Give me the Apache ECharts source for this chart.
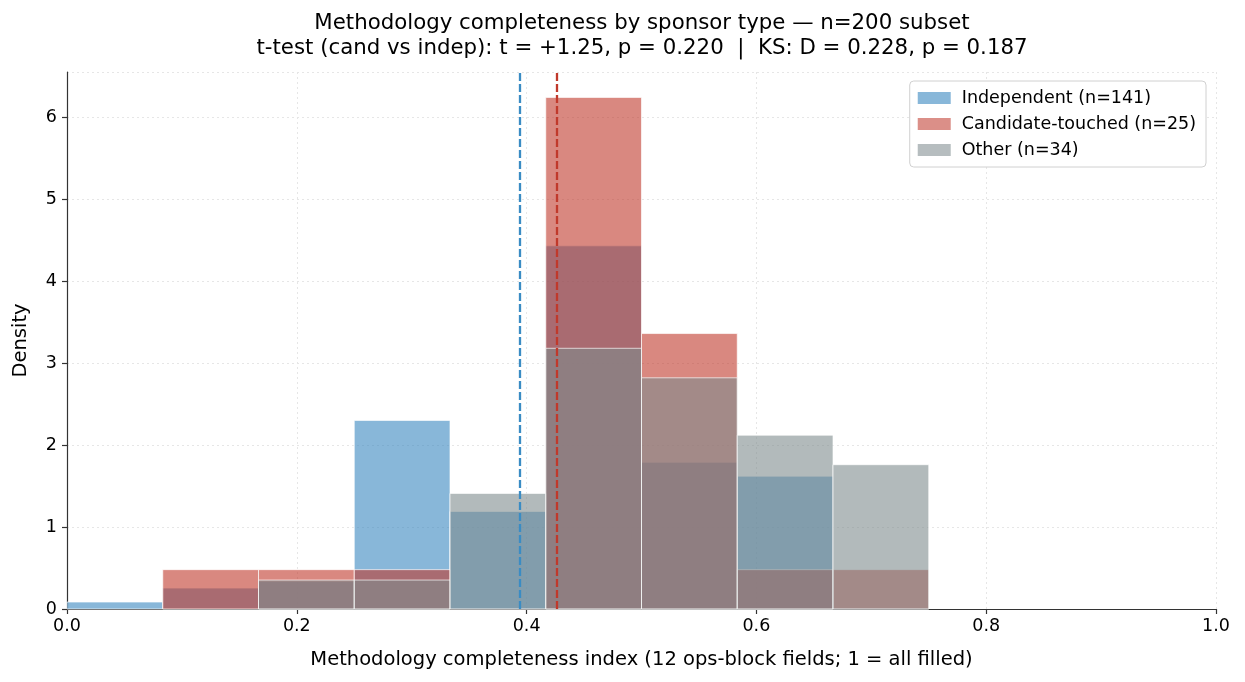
<!DOCTYPE html>
<html>
<head>
<meta charset="utf-8">
<script src="https://cdn.jsdelivr.net/npm/echarts@6/dist/echarts.min.js"></script>
<style>
  html, body { margin: 0; padding: 0; background: #fff; }
  #chart { width: 1245px; height: 682px; }
</style>
</head>
<body>
<div id="chart"></div>
<script>
// bin edges: 12 bins of 1/12 on [0, 1], only the first 9 have data
const binEdges = [0, 1 / 12, 2 / 12, 3 / 12, 4 / 12, 5 / 12, 6 / 12, 7 / 12, 8 / 12, 9 / 12];
const independentDensity = [0.085, 0.255, 0.34, 2.30, 1.19, 4.43, 1.79, 1.62, 0];
const candidateDensity = [0, 0.48, 0.48, 0.48, 0, 6.24, 3.36, 0.48, 0.48];
const otherDensity = [0, 0, 0.353, 0.353, 1.41, 3.18, 2.82, 2.12, 1.76];
const seriesNames = ['Independent (n=141)', 'Candidate-touched (n=25)', 'Other (n=34)'];
const meanIndependent = 0.394;
const meanCandidate = 0.4265;

const font = 'DejaVu Sans';

const toBins = (dens) =>
  dens.map((d, i) => [binEdges[i], binEdges[i + 1], d]).filter((b) => b[2] > 0);

const histSeries = (name, dens, fill, legendColor) => ({
  name,
  type: 'custom',
  itemStyle: { color: legendColor },
  data: toBins(dens),
  encode: { x: [0, 1], y: 2 },
  renderItem: (params, api) => {
    const top = api.coord([api.value(0), api.value(2)]);
    const base = api.coord([api.value(1), 0]);
    return {
      type: 'rect',
      shape: { x: top[0], y: top[1], width: base[0] - top[0], height: base[1] - top[1] },
      style: { fill, stroke: 'rgba(255,255,255,0.75)', lineWidth: 0.9 }
    };
  }
});

const chart = echarts.init(document.getElementById('chart'));
chart.setOption({
  animation: false,
  title: {
    text: 'Methodology completeness by sponsor type — n=200 subset\nt-test (cand vs indep): t = +1.25, p = 0.220  |  KS: D = 0.228, p = 0.187',
    left: 637,
    textAlign: 'center',
    top: 6,
    textStyle: { fontFamily: font, fontSize: 21.3, fontWeight: 'normal', color: '#000', lineHeight: 25 }
  },
  legend: {
    orient: 'vertical',
    right: 39,
    top: 81,
    padding: [8, 10, 8, 8],
    itemGap: 8,
    itemWidth: 33,
    itemHeight: 12,
    icon: 'rect',
    backgroundColor: '#fff',
    borderColor: '#d0d0d0',
    borderWidth: 1,
    borderRadius: 4,
    textStyle: { fontFamily: font, fontSize: 17.5, color: '#000', padding: [0, 0, 0, 6] },
    data: [
      { name: seriesNames[0], itemStyle: { color: '#88b7d9' } },
      { name: seriesNames[1], itemStyle: { color: '#db8f88' } },
      { name: seriesNames[2], itemStyle: { color: '#b6bdbf' } }
    ]
  },
  grid: { left: 67, right: 29, top: 72, bottom: 73, outerBoundsMode: 'none' },
  xAxis: {
    type: 'value',
    min: 0,
    max: 1,
    interval: 0.2,
    name: 'Methodology completeness index (12 ops-block fields; 1 = all filled)',
    nameLocation: 'middle',
    nameGap: 41,
    nameTextStyle: { fontFamily: font, fontSize: 19.5, color: '#000' },
    axisLine: { lineStyle: { color: '#333', width: 1.2 } },
    axisTick: { length: 5, lineStyle: { color: '#333', width: 1.2 } },
    axisLabel: { fontFamily: font, fontSize: 17.5, color: '#000', margin: 8, formatter: (v) => v.toFixed(1) },
    splitLine: { show: true, lineStyle: { color: '#e6e6e6', type: [2, 3], width: 1 } }
  },
  yAxis: {
    type: 'value',
    min: 0,
    max: 6.55,
    interval: 1,
    name: 'Density',
    nameLocation: 'middle',
    nameGap: 36,
    nameTextStyle: { fontFamily: font, fontSize: 19.5, color: '#000' },
    axisLine: { show: true, lineStyle: { color: '#333', width: 1.2 } },
    axisTick: { show: true, length: 5, lineStyle: { color: '#333', width: 1.2 } },
    axisLabel: { fontFamily: font, fontSize: 17.5, color: '#000', margin: 10, showMaxLabel: false },
    splitLine: { show: true, lineStyle: { color: '#e6e6e6', type: [2, 3], width: 1 } }
  },
  series: [
    histSeries(seriesNames[0], independentDensity, 'rgba(57,135,192,0.6)', '#88b7d9'),
    histSeries(seriesNames[1], candidateDensity, 'rgba(192,57,43,0.6)', '#db8f88'),
    histSeries(seriesNames[2], otherDensity, 'rgba(127,140,141,0.6)', '#b6bdbf'),
    {
      type: 'line',
      data: [],
      z: 5,
      markLine: {
        silent: true,
        symbol: 'none',
        precision: 4,
        label: { show: false },
        data: [
          { xAxis: meanIndependent, lineStyle: { color: '#3a8cc4', type: [8, 3], width: 2.3 } },
          { xAxis: meanCandidate, lineStyle: { color: '#c0392b', type: [8, 3], width: 2.3 } }
        ]
      }
    }
  ]
});
</script>
</body>
</html>
